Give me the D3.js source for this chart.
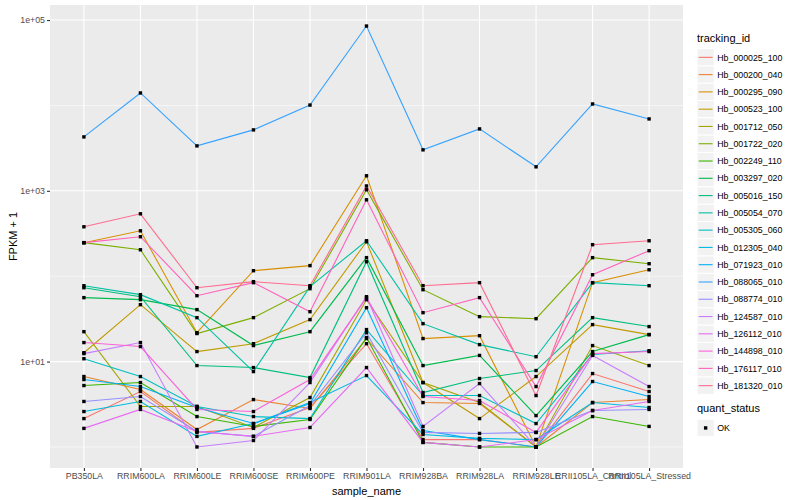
<!DOCTYPE html>
<html>
<head>
<meta charset="utf-8">
<script src="https://cdnjs.cloudflare.com/ajax/libs/d3/7.8.5/d3.min.js"></script>
<style>
  body { margin: 0; background: #fff; }
  text { font-family: "Liberation Sans", Arial, sans-serif; }
</style>
</head>
<body>
<script>
// Data (FPKM + 1)
// =================================
var samples = ["PB350LA", "RRIM600LA", "RRIM600LE", "RRIM600SE", "RRIM600PE", "RRIM901LA",
    "RRIM928BA", "RRIM928LA", "RRIM928LE", "RRII105LA_Control", "RRII105LA_Stressed"];

var trackingIds = ["Hb_000025_100", "Hb_000200_040", "Hb_000295_090", "Hb_000523_100", "Hb_001712_050",
    "Hb_001722_020", "Hb_002249_110", "Hb_003297_020", "Hb_005016_150", "Hb_005054_070",
    "Hb_005305_060", "Hb_012305_040", "Hb_071923_010", "Hb_088065_010", "Hb_088774_010",
    "Hb_124587_010", "Hb_126112_010", "Hb_144898_010", "Hb_176117_010", "Hb_181320_010"];

var hb000025 = [2.15, 4.46, 1.48, 1.65, 2.9, 16.2, 1.22, 1.22, 1.0, 7.24, 4.46];
var hb000200 = [6.68, 4.71, 1.6, 3.59, 2.82, 18.6, 3.31, 3.23, 1.0, 3.31, 3.59];
var hb000295 = [247, 340, 21.8, 116, 133, 1500, 18.6, 20.1, 1.0, 84, 119];
var hb000523 = [12.7, 46.4, 13.1, 16.2, 31, 253, 5.68, 2.15, 6.68, 27.1, 20.7];
var hb001712 = [22.4, 2.98, 2.98, 1.69, 3.79, 53.1, 5.68, 3.31, 1.0, 15.4, 8.98];
var hb001722 = [247, 204, 21.3, 32.7, 71.4, 1030, 69.5, 33.6, 31.8, 165, 140];
var hb002249 = [5.24, 5.68, 2.27, 1.74, 2.1, 19.1, 1.13, 1.0, 1.0, 2.27, 1.74];
var hb003297 = [56.1, 53.1, 40.6, 15.4, 22.4, 165, 8.98, 11.8, 2.33, 13.1, 20.7];
var hb005016 = [73.3, 57.5, 8.98, 8.51, 6.5, 148, 4.34, 6.33, 7.85, 32.7, 25.7];
var hb005054 = [77.4, 60.8, 32.7, 7.64, 75.4, 260, 27.8, 15.8, 11.4, 84, 77.4];
var hb005305 = [10.8, 6.68, 2.98, 2.27, 2.15, 23.7, 4.0, 4.0, 1.88, 12.1, 13.4];
var hb012305 = [2.6, 3.41, 1.33, 1.88, 3.31, 6.86, 1.4, 1.26, 1.22, 3.31, 2.9];
var hb071923 = [6.16, 5.1, 2.9, 1.88, 3.23, 42.8, 1.56, 1.22, 1.0, 5.84, 3.9];
var hb088065 = [4280, 14000, 3360, 5170, 10100, 85100, 3020, 5310, 1910, 10400, 6950];
var hb088774 = [3.41, 3.9, 1.52, 1.33, 3.06, 21.8, 1.48, 1.44, 1.48, 2.67, 2.75];
var hb124587 = [12.4, 16.7, 1.0, 1.19, 5.68, 57.5, 1.74, 5.53, 1.0, 11.8, 5.1];
var hb126112 = [1.65, 2.75, 1.52, 1.33, 1.69, 8.51, 1.13, 1.0, 1.22, 2.67, 3.41];
var hb144898 = [16.7, 15.0, 2.75, 2.6, 6.16, 56.1, 3.9, 3.5, 1.48, 12.4, 13.1];
var hb176117 = [247, 290, 59.1, 84, 38.4, 785, 37.4, 56.1, 5.1, 104, 199];
var hb181320 = [379, 538, 73.3, 86.3, 77.4, 1140, 77.4, 84, 4.0, 234, 260];

var seriesValues = [hb000025, hb000200, hb000295, hb000523, hb001712, hb001722, hb002249,
    hb003297, hb005016, hb005054, hb005305, hb012305, hb071923, hb088065, hb088774,
    hb124587, hb126112, hb144898, hb176117, hb181320];

var yTickValues = [10, 1000, 100000];
var yMinorValues = [1, 100, 10000];
var yTickLabels = ["1e+01", "1e+03", "1e+05"];

// default ggplot hue palette for 20 levels
var hueColors = ["#F8766D", "#EA8331", "#D89000", "#C09B00", "#A3A500", "#7CAE00", "#39B600",
    "#00BB4E", "#00BF7D", "#00C1A3", "#00BFC4", "#00BAE0", "#00B0F6", "#35A2FF", "#9590FF",
    "#C77CFF", "#E76BF3", "#FA62DB", "#FF62BC", "#FF6C91"];

// Set up chart
// =================================
var svgWidth = 800;
var svgHeight = 500;

var margin = {
    top: 5,
    right: 117,
    bottom: 32,
    left: 50
};

var chartWidth = svgWidth - margin.left - margin.right;
var chartHeight = svgHeight - margin.top - margin.bottom;

var svg = d3.select("body")
    .append("svg")
    .attr("width", svgWidth)
    .attr("height", svgHeight);

var chartGroup = svg.append("g")
    .attr("transform", `translate(${margin.left}, ${margin.top})`);

// build one row per tracking id
var lineData = trackingIds.map(function (id, i) {
    return {
        id: id,
        color: hueColors[i],
        points: samples.map((s, j) => ({ sample: s, value: seriesValues[i][j] }))
    };
});

// Scales
// =================================
var xPointScale = d3.scalePoint()
    .domain(samples)
    .range([0, chartWidth])
    .padding(0.6);

var allValues = d3.merge(seriesValues);
var logExtent = d3.extent(allValues, d => Math.log10(d));
var pad = (logExtent[1] - logExtent[0]) * 0.05;

var yLogScale = d3.scaleLog()
    .domain([Math.pow(10, logExtent[0] - pad), Math.pow(10, logExtent[1] + pad)])
    .range([chartHeight, 0]);

// Panel background and grid
// =================================
chartGroup.append("rect")
    .attr("width", chartWidth)
    .attr("height", chartHeight)
    .attr("fill", "#EBEBEB");

chartGroup.selectAll(".minor-grid")
    .data(yMinorValues)
    .enter()
    .append("line")
    .attr("x1", 0)
    .attr("x2", chartWidth)
    .attr("y1", d => yLogScale(d))
    .attr("y2", d => yLogScale(d))
    .attr("stroke", "#fff")
    .attr("stroke-width", 0.55);

chartGroup.selectAll(".major-grid")
    .data(yTickValues)
    .enter()
    .append("line")
    .attr("x1", 0)
    .attr("x2", chartWidth)
    .attr("y1", d => yLogScale(d))
    .attr("y2", d => yLogScale(d))
    .attr("stroke", "#fff")
    .attr("stroke-width", 1.1);

chartGroup.selectAll(".x-grid")
    .data(samples)
    .enter()
    .append("line")
    .attr("x1", d => xPointScale(d))
    .attr("x2", d => xPointScale(d))
    .attr("y1", 0)
    .attr("y2", chartHeight)
    .attr("stroke", "#fff")
    .attr("stroke-width", 1.1);

// Lines, then points
// =================================
var line = d3.line()
    .x(d => xPointScale(d.sample))
    .y(d => yLogScale(d.value));

chartGroup.selectAll(".series")
    .data(lineData)
    .enter()
    .append("path")
    .attr("d", d => line(d.points))
    .attr("fill", "none")
    .attr("stroke", d => d.color)
    .attr("stroke-width", 1.1);

var allPoints = d3.merge(lineData.map(d => d.points));

chartGroup.selectAll(".pt")
    .data(allPoints)
    .enter()
    .append("rect")
    .attr("x", d => xPointScale(d.sample) - 1.7)
    .attr("y", d => yLogScale(d.value) - 1.7)
    .attr("width", 3.4)
    .attr("height", 3.4)
    .attr("fill", "#000");

// Axes
// =================================
var bottomAxis = d3.axisBottom(xPointScale).tickSize(3).tickPadding(2);
var leftAxis = d3.axisLeft(yLogScale)
    .tickValues(yTickValues)
    .tickFormat((d, i) => yTickLabels[i])
    .tickSize(3)
    .tickPadding(2);

var xAxis = chartGroup.append("g")
    .attr("transform", `translate(0, ${chartHeight})`)
    .call(bottomAxis);

var yAxis = chartGroup.append("g")
    .call(leftAxis);

[xAxis, yAxis].forEach(function (ax) {
    ax.select(".domain").remove();
    ax.selectAll(".tick line").attr("stroke", "#333").attr("stroke-width", 1.1);
    ax.selectAll(".tick text")
        .attr("fill", "#4D4D4D")
        .style("font-size", "8.8px")
        .style("font-family", "'Liberation Sans', Arial, sans-serif");
});

// Axis titles
chartGroup.append("text")
    .attr("transform", "rotate(-90)")
    .attr("x", 0 - (chartHeight / 2))
    .attr("y", 0 - margin.left + 17)
    .attr("text-anchor", "middle")
    .style("font-size", "11px")
    .text("FPKM + 1");

chartGroup.append("text")
    .attr("x", chartWidth / 2)
    .attr("y", chartHeight + 27)
    .attr("text-anchor", "middle")
    .style("font-size", "11px")
    .text("sample_name");

// Legends
// =================================
var keySize = 17.28;
var legendX = 697;
var legendTop = 48.7;

var legend = svg.append("g");

legend.append("text")
    .attr("x", legendX)
    .attr("y", legendTop - 7)
    .style("font-size", "11px")
    .text("tracking_id");

var keys = legend.selectAll(".key")
    .data(lineData)
    .enter()
    .append("g")
    .attr("transform", (d, i) => `translate(${legendX}, ${legendTop + i * keySize})`);

keys.append("rect")
    .attr("width", keySize)
    .attr("height", keySize)
    .attr("fill", "#F2F2F2")
    .attr("stroke", "#fff")
    .attr("stroke-width", 1);

keys.append("line")
    .attr("x1", 1.7)
    .attr("x2", keySize - 1.7)
    .attr("y1", keySize / 2)
    .attr("y2", keySize / 2)
    .attr("stroke", d => d.color)
    .attr("stroke-width", 1.1);

keys.append("text")
    .attr("x", keySize + 3)
    .attr("y", keySize / 2 + 3.2)
    .style("font-size", "8.8px")
    .text(d => d.id);

var qTop = legendTop + trackingIds.length * keySize + 25;

legend.append("text")
    .attr("x", legendX)
    .attr("y", qTop - 7)
    .style("font-size", "11px")
    .text("quant_status");

var okKey = legend.append("g")
    .attr("transform", `translate(${legendX}, ${qTop})`);

okKey.append("rect")
    .attr("width", keySize)
    .attr("height", keySize)
    .attr("fill", "#F2F2F2")
    .attr("stroke", "#fff");

okKey.append("rect")
    .attr("x", keySize / 2 - 1.7)
    .attr("y", keySize / 2 - 1.7)
    .attr("width", 3.4)
    .attr("height", 3.4)
    .attr("fill", "#000");

okKey.append("text")
    .attr("x", keySize + 3)
    .attr("y", keySize / 2 + 3.2)
    .style("font-size", "8.8px")
    .text("OK");
</script>
</body>
</html>
